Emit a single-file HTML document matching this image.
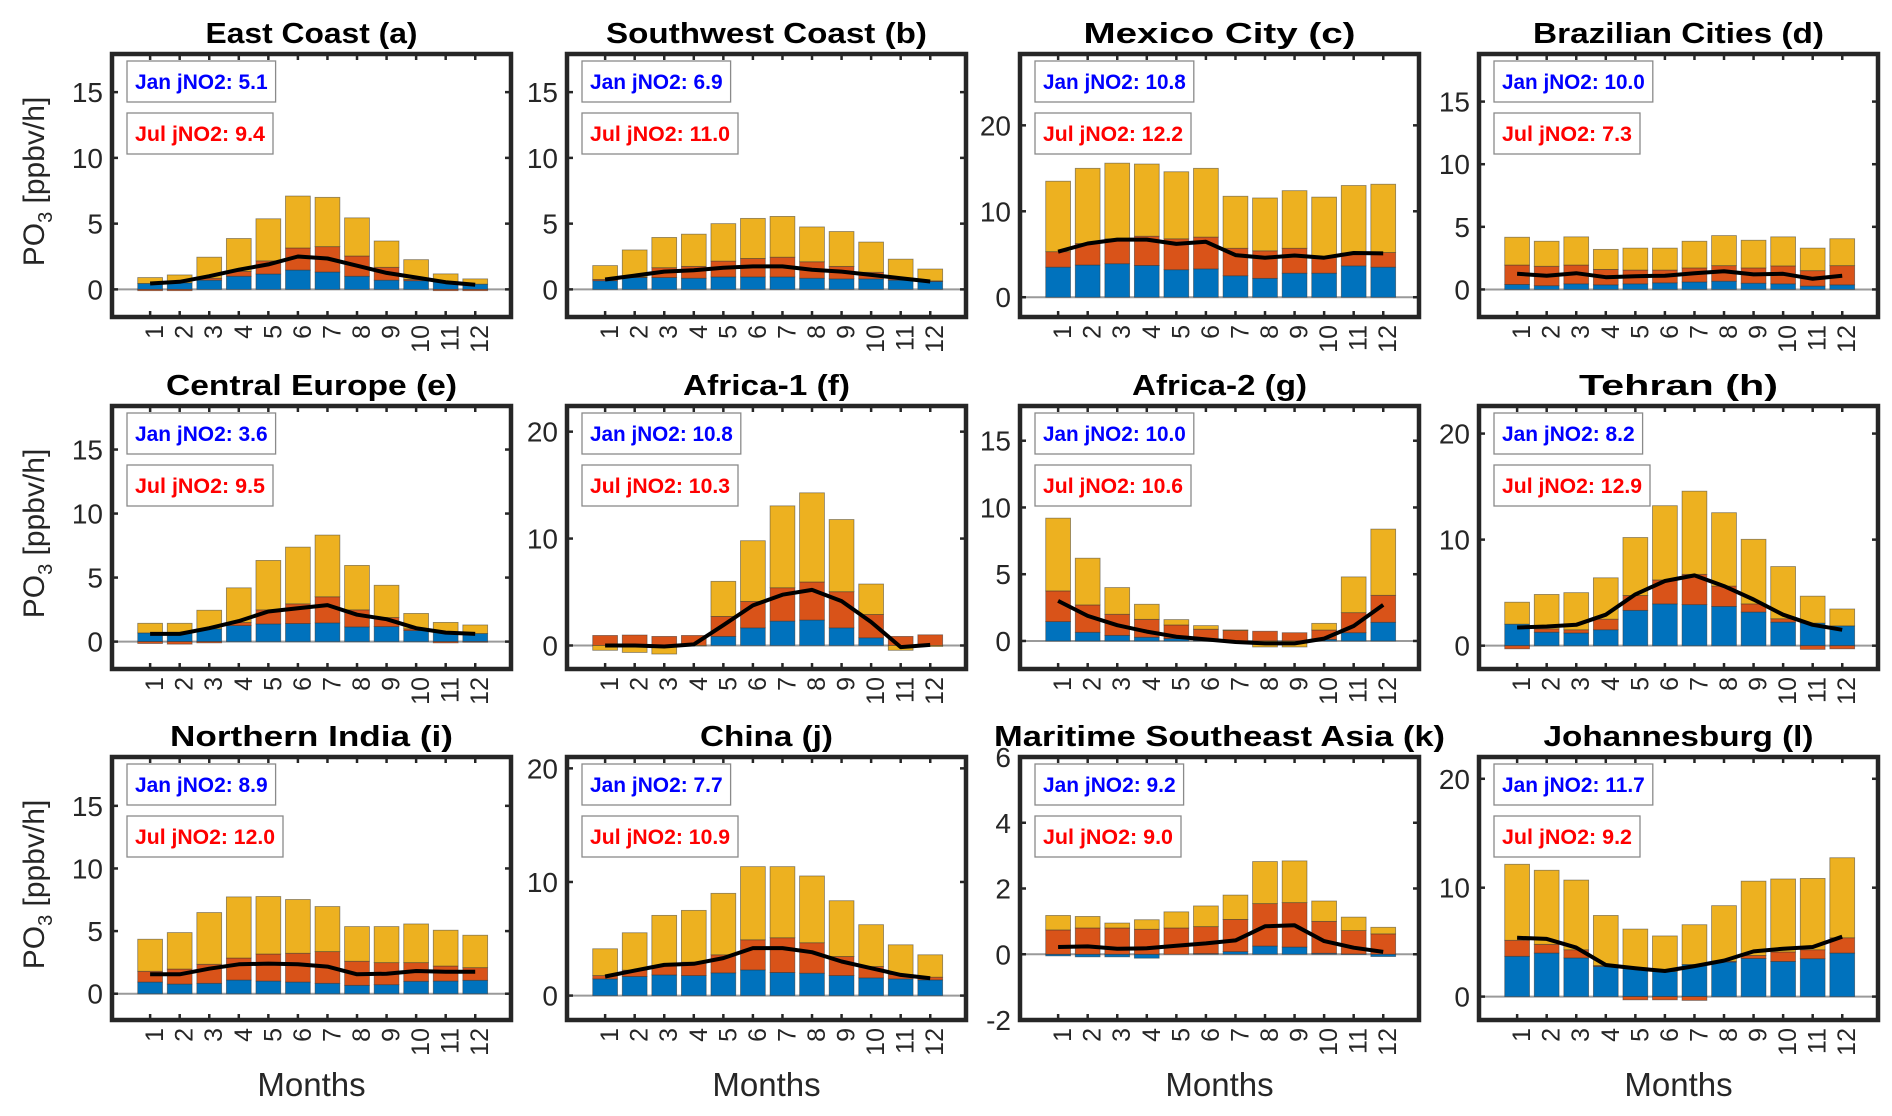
<!DOCTYPE html>
<html><head><meta charset="utf-8"><style>
html,body{margin:0;padding:0;background:#fff;}
svg{display:block;font-family:"Liberation Sans",sans-serif;}
</style></head><body>
<svg id="fig" width="1892" height="1116" viewBox="0 0 1892 1116" xmlns="http://www.w3.org/2000/svg"></svg>
<script>
const months = ["1","2","3","4","5","6","7","8","9","10","11","12"];
// (a) East Coast
const blueA = [0.45,0.5,0.7,1.0,1.17,1.47,1.32,1.0,0.7,0.66,0.58,0.4];
const orangeA = [-0.1,-0.1,0.15,0.37,1.0,1.68,1.93,1.54,0.98,0.1,-0.1,-0.1];
const yellowA = [0.45,0.6,1.6,2.5,3.2,3.95,3.75,2.9,2.0,1.5,0.6,0.4];
const lineA = [0.45,0.58,1.0,1.5,1.9,2.5,2.35,1.8,1.25,0.9,0.55,0.35];
// (b) Southwest Coast
const blueB = [0.66,0.9,0.9,0.85,0.95,0.95,0.95,0.85,0.8,0.8,0.7,0.6];
const orangeB = [0.1,0.05,0.75,0.9,1.2,1.4,1.5,1.25,0.95,0.5,0.1,0.05];
const yellowB = [1.05,2.05,2.3,2.45,2.85,3.05,3.1,2.65,2.65,2.3,1.5,0.9];
const lineB = [0.75,1.05,1.35,1.45,1.65,1.75,1.75,1.5,1.35,1.1,0.85,0.6];
// (c) Mexico City
const blueC = [3.5,3.75,3.9,3.7,3.2,3.3,2.5,2.2,2.8,2.8,3.65,3.5];
const orangeC = [1.8,2.5,2.9,3.4,3.6,3.7,3.2,3.2,2.9,1.95,1.5,1.7];
const yellowC = [8.2,8.75,8.8,8.4,7.8,8.0,6.05,6.15,6.7,6.9,7.85,7.95];
const lineC = [5.3,6.25,6.7,6.7,6.2,6.45,4.9,4.6,4.85,4.6,5.15,5.1];
// (d) Brazilian Cities
const blueD = [0.4,0.3,0.45,0.37,0.45,0.53,0.6,0.66,0.5,0.45,0.27,0.37];
const orangeD = [1.55,1.55,1.5,1.23,1.1,1.02,1.12,1.24,1.22,1.43,1.23,1.53];
const yellowD = [2.22,2.0,2.25,1.6,1.75,1.75,2.13,2.4,2.21,2.32,1.8,2.15];
const lineD = [1.25,1.1,1.3,0.98,1.06,1.1,1.3,1.45,1.2,1.25,0.85,1.1];
// (e) Central Europe
const blueE = [0.68,0.68,1.0,1.25,1.38,1.41,1.46,1.15,1.17,0.86,0.73,0.63];
const orangeE = [-0.15,-0.2,-0.1,0.24,1.1,1.54,2.04,1.33,0.71,0.14,-0.1,-0.05];
const yellowE = [0.75,0.75,1.45,2.71,3.86,4.43,4.82,3.47,2.52,1.2,0.77,0.67];
const lineE = [0.6,0.6,1.05,1.6,2.35,2.6,2.85,2.1,1.75,1.05,0.7,0.6];
// (f) Africa-1
const blueF = [0,0,0,0,0.85,1.65,2.28,2.38,1.65,0.72,0,0];
const orangeF = [0.94,0.98,0.85,0.94,1.87,2.47,3.12,3.56,3.38,2.18,0.85,1.0];
const yellowF = [-0.45,-0.65,-0.8,-0.05,3.28,5.68,7.66,8.34,6.75,2.85,-0.45,-0.1];
const lineF = [0,0,-0.1,0.1,1.9,3.75,4.75,5.2,4.15,2.2,-0.15,0.05];
// (g) Africa-2
const blueG = [1.45,0.65,0.42,0.28,0.18,0.05,0,0,0,0.12,0.62,1.4];
const orangeG = [2.3,2.05,1.58,1.34,1.02,0.83,0.78,0.73,0.62,0.7,1.5,2.02];
const yellowG = [5.45,3.5,2.0,1.13,0.4,0.27,0.05,-0.45,-0.45,0.5,2.68,4.96];
const lineG = [3.0,1.88,1.18,0.7,0.32,0.12,-0.08,-0.18,-0.18,0.18,1.12,2.7];
// (h) Tehran
const blueH = [2.03,1.27,1.2,1.5,3.33,3.94,3.87,3.7,3.17,2.22,2.13,1.87];
const orangeH = [-0.3,0.32,0.3,1.0,1.4,2.26,2.86,1.92,0.77,0.32,-0.35,-0.3];
const yellowH = [2.07,3.24,3.5,3.9,5.47,7.0,7.84,6.92,6.09,4.92,2.54,1.59];
const lineH = [1.71,1.81,1.97,2.92,4.83,6.1,6.63,5.62,4.35,2.92,1.97,1.5];
// (i) Northern India
const blueI = [0.93,0.77,0.83,1.09,1.01,0.93,0.83,0.67,0.72,0.99,1.01,1.07];
const orangeI = [0.86,1.2,1.52,1.76,2.16,2.3,2.53,1.92,1.76,1.49,1.2,1.01];
const yellowI = [2.56,2.91,4.13,4.88,4.59,4.29,3.6,2.77,2.88,3.09,2.86,2.59];
const lineI = [1.55,1.55,2.0,2.35,2.4,2.35,2.16,1.55,1.6,1.81,1.76,1.76];
// (j) China
const blueJ = [1.47,1.68,1.82,1.76,2.0,2.26,2.03,1.97,1.76,1.56,1.47,1.38];
const orangeJ = [0.29,0.56,0.83,1.18,1.59,2.65,3.06,2.68,1.68,1.0,0.38,0.24];
const yellowJ = [2.36,3.29,4.41,4.56,5.41,6.44,6.26,5.88,4.91,3.68,2.62,1.97];
const lineJ = [1.68,2.2,2.7,2.8,3.3,4.18,4.18,3.82,3.0,2.41,1.82,1.53];
// (k) Maritime Southeast Asia
const blueK = [-0.05,-0.08,-0.08,-0.12,0,0.02,0.08,0.25,0.22,0.03,0.01,-0.07];
const orangeK = [0.74,0.8,0.8,0.76,0.8,0.82,0.98,1.29,1.35,0.97,0.71,0.62];
const yellowK = [0.44,0.35,0.15,0.29,0.49,0.63,0.74,1.28,1.27,0.62,0.41,0.2];
const lineK = [0.22,0.24,0.17,0.18,0.26,0.33,0.42,0.85,0.88,0.4,0.2,0.07];
// (l) Johannesburg
const blueL = [3.7,4.0,3.55,2.77,2.65,2.3,2.95,3.17,3.5,3.23,3.48,4.0];
const orangeL = [1.47,0.8,0.75,0.08,-0.3,-0.3,-0.35,0.08,0.28,0.87,0.82,1.4];
const yellowL = [6.98,6.8,6.4,4.6,3.55,3.27,3.65,5.1,6.82,6.7,6.55,7.35];
const lineL = [5.4,5.3,4.5,2.9,2.6,2.35,2.8,3.3,4.15,4.4,4.55,5.5];

const titles = ["East Coast (a)","Southwest Coast (b)","Mexico City (c)","Brazilian Cities (d)","Central Europe (e)","Africa-1 (f)","Africa-2 (g)","Tehran (h)","Northern India (i)","China (j)","Maritime Southeast Asia (k)","Johannesburg (l)"];
const janLabels = ["5.1","6.9","10.8","10.0","3.6","10.8","10.0","8.2","8.9","7.7","9.2","11.7"];
const julLabels = ["9.4","11.0","12.2","7.3","9.5","10.3","10.6","12.9","12.0","10.9","9.0","9.2"];
const yMins = [-2.1,-2.1,-2.3,-2.2,-2.14,-2.2,-2.1,-2.2,-2.1,-2.15,-2,-2.15];
const yMaxs = [17.9,17.9,28.3,18.8,18.4,22.4,17.6,22.6,18.9,21.0,6,22.0];
const yTicks = [[0,5,10,15],[0,5,10,15],[0,10,20],[0,5,10,15],[0,5,10,15],[0,10,20],[0,5,10,15],[0,10,20],[0,5,10,15],[0,10,20],[-2,0,2,4,6],[0,10,20]];
const seriesBlue = [blueA,blueB,blueC,blueD,blueE,blueF,blueG,blueH,blueI,blueJ,blueK,blueL];
const seriesOrange = [orangeA,orangeB,orangeC,orangeD,orangeE,orangeF,orangeG,orangeH,orangeI,orangeJ,orangeK,orangeL];
const seriesYellow = [yellowA,yellowB,yellowC,yellowD,yellowE,yellowF,yellowG,yellowH,yellowI,yellowJ,yellowK,yellowL];
const seriesLine = [lineA,lineB,lineC,lineD,lineE,lineF,lineG,lineH,lineI,lineJ,lineK,lineL];

const NS = "http://www.w3.org/2000/svg";
const svg = document.getElementById("fig");
const titleLens = [212,321,272,291,291,167,175,199,283,133,451,270];
const colLeft = [112,567,1020,1479];
const rowTop = [54,406,757];
const W = 399, H = 263, XMIN = -0.29, XMAX = 13.21;
const colors = ["#0072BD","#D95319","#EDB120"];
const segNames = ["blue","orange","yellow"];

function mk(tag, attrs, parent){
  const e = document.createElementNS(NS, tag);
  for (const k in attrs) e.setAttribute(k, attrs[k]);
  (parent || svg).appendChild(e);
  return e;
}

for (let p = 0; p < 12; p++){
  const L = colLeft[p % 4], T = rowTop[Math.floor(p / 4)];
  const ymin = yMins[p], ymax = yMaxs[p];
  const xs = v => L + (v - XMIN) / (XMAX - XMIN) * W;
  const ys = v => T + (ymax - v) / (ymax - ymin) * H;
  const g = mk("g", {});
  
  

  const t = mk("text", {x: L + W / 2, y: T - 11, "text-anchor": "middle", "font-size": 29, "font-weight": "bold", fill: "#000",
    "font-family": "'Liberation Sans Narrow','Liberation Sans',sans-serif", textLength: titleLens[p], lengthAdjust: "spacingAndGlyphs"}, g);
  t.textContent = titles[p];
  
  

  mk("rect", {x: L, y: T, width: W, height: H, fill: "#fff"}, g);

  const z = mk("line", {x1: L, x2: L + W, y1: ys(0), y2: ys(0), stroke: "#9a9a9a", "stroke-width": 2}, g);
  
  

  const segs = [seriesBlue[p], seriesOrange[p], seriesYellow[p]];
  const bw = 0.84;
  for (let m = 0; m < 12; m++){
    let pos = 0, neg = 0;
    for (let s = 0; s < 3; s++){
      const v = segs[s][m];
      let y0, y1;
      if (v >= 0){ y0 = pos; y1 = pos + v; pos = y1; } else { y1 = neg; y0 = neg + v; neg = y0; }
      if (Math.abs(v) < 1e-9) continue;
      const r = mk("rect", {x: xs(m + 1 - bw / 2), y: ys(y1), width: xs(m + 1 + bw / 2) - xs(m + 1 - bw / 2), height: Math.max(0.5, ys(y0) - ys(y1)),
        fill: colors[s], stroke: "#333", "stroke-opacity": 0.55, "stroke-width": 0.8}, g);
      
      
    }
  }

  const pts = seriesLine[p].map((v, i) => xs(i + 1).toFixed(1) + "," + ys(v).toFixed(1)).join(" ");
  const pl = mk("polyline", {points: pts, fill: "none", stroke: "#000", "stroke-width": 4, "stroke-linejoin": "round"}, g);
  
  

  const janTxt = "Jan jNO2: " + janLabels[p];
  const julTxt = "Jul jNO2: " + julLabels[p];
  const janW = janTxt.length * 10.2, julW = julTxt.length * 10.0;
  const jb = mk("rect", {x: L + 15, y: T + 7, width: janW + 16, height: 41, fill: "#fff", stroke: "#8a8a8a", "stroke-width": 1.3}, g);
  
  
  const jt = mk("text", {x: L + 23, y: T + 35, "font-size": 21, "font-weight": "bold", fill: "#0000ff",
    "font-family": "'Liberation Sans Narrow','Liberation Sans',sans-serif", textLength: janW, lengthAdjust: "spacingAndGlyphs"}, g);
  jt.textContent = janTxt;
  
  
  const ub = mk("rect", {x: L + 15, y: T + 59, width: julW + 16, height: 41, fill: "#fff", stroke: "#8a8a8a", "stroke-width": 1.3}, g);
  
  
  const ut = mk("text", {x: L + 23, y: T + 87, "font-size": 21, "font-weight": "bold", fill: "#ff0000",
    "font-family": "'Liberation Sans Narrow','Liberation Sans',sans-serif", textLength: julW, lengthAdjust: "spacingAndGlyphs"}, g);
  ut.textContent = julTxt;
  
  

  for (let m = 1; m <= 12; m++){
    mk("line", {x1: xs(m), x2: xs(m), y1: T, y2: T + 6, stroke: "#262626", "stroke-width": 2.5}, g);
    mk("line", {x1: xs(m), x2: xs(m), y1: T + H, y2: T + H - 6, stroke: "#262626", "stroke-width": 2.5}, g);
    const ml = mk("text", {x: 0, y: 0, "font-size": 25, fill: "#262626", "text-anchor": "end",
      transform: "translate(" + (xs(m) + 13).toFixed(1) + "," + (T + H + 8) + ") rotate(-90)"}, g);
    ml.textContent = months[m - 1];
    
    
  }
  yTicks[p].forEach(v => {
    mk("line", {x1: L, x2: L + 6, y1: ys(v), y2: ys(v), stroke: "#262626", "stroke-width": 2.5}, g);
    mk("line", {x1: L + W, x2: L + W - 6, y1: ys(v), y2: ys(v), stroke: "#262626", "stroke-width": 2.5}, g);
    const yl = mk("text", {x: L - 9, y: ys(v) + 10, "font-size": 28, fill: "#262626", "text-anchor": "end"}, g);
    yl.textContent = String(v);
    
    
  });

  const fr = mk("rect", {x: L, y: T, width: W, height: H, fill: "none", stroke: "#262626", "stroke-width": 4.5}, g);
  
  

  if (p % 4 === 0){
    const ya = mk("text", {x: 0, y: 0, "font-size": 30, fill: "#262626", "text-anchor": "middle",
      transform: "translate(44," + (T + H / 2 - 4) + ") rotate(-90)"}, g);
    
    
    const s1 = mk("tspan", {}, ya); s1.textContent = "PO";
    const s2 = mk("tspan", {dy: 8, "font-size": 20}, ya); s2.textContent = "3";
    const s3 = mk("tspan", {dy: -8}, ya); s3.textContent = " [ppbv/h]";
  }
  if (p >= 8){
    const xa = mk("text", {x: L + W / 2, y: 1096, "font-size": 33, fill: "#262626", "text-anchor": "middle"}, g);
    xa.textContent = "Months";
    
    
  }
}
</script>
</body></html>
